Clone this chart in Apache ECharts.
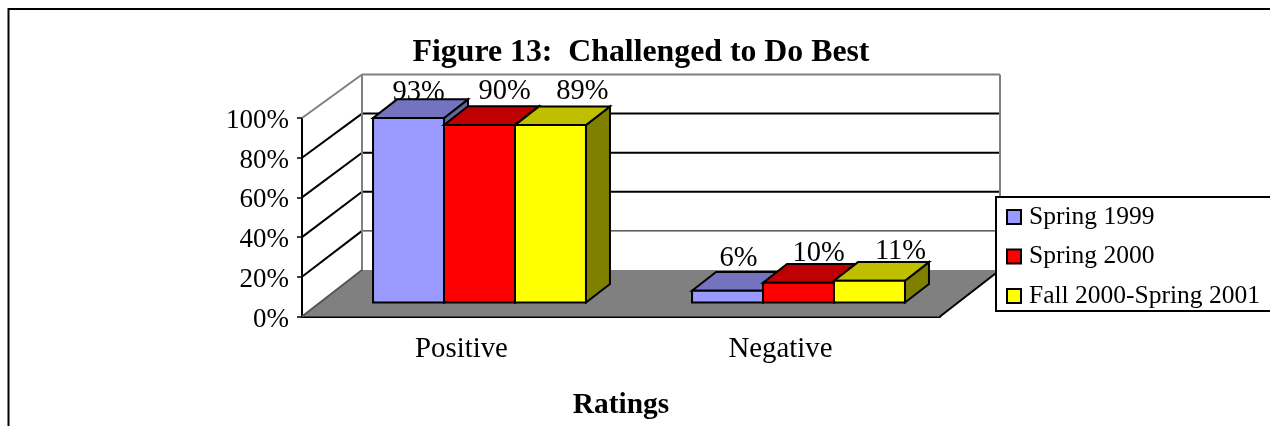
<!DOCTYPE html>
<html><head><meta charset="utf-8">
<style>html,body{margin:0;padding:0;background:#fff}#c{width:1270px;height:426px}</style>
<script src="https://cdn.jsdelivr.net/npm/echarts@6/dist/echarts.min.js"></script>
</head><body><div id="c"></div>
<script>
const categories = ['Positive', 'Negative'];
const seriesNames = ['Spring 1999', 'Spring 2000', 'Fall 2000-Spring 2001'];
const spring1999 = [93, 6];
const spring2000 = [89.5, 10];
const fall2000Spring2001 = [89.4, 11];
const yTicks = [0, 20, 40, 60, 80, 100];

const FONT = '"Liberation Serif","Times New Roman",serif';
const DX = 60, DY = 46.5, BACK = 0.985; // wall depth on screen, back wall shrink
const D1 = 0.3, D2 = 0.7;               // bar front/back depth fraction
const BAR = 0.2225;                     // bar width as share of a band
const LABEL_MID = -9;                   // from text baseline to text middle
const faces = [
  {front:'#9999ff', top:'#7373bf', side:'#666699', ldx:[10,11], ldy:[-16,-23]},
  {front:'#ff0000', top:'#bf0000', side:'#800000', ldx:[25,20], ldy:[-24,-20]},
  {front:'#ffff00', top:'#bfbf00', side:'#808000', ldx:[32,31], ldy:[-25,-20]}
];
const seriesValues = [spring1999, spring2000, fall2000Spring2001];

function poly(pts, fill, stroke, w) {
  return {type:'polygon', shape:{points:pts}, style:{fill:fill, stroke:stroke, lineWidth:w, lineJoin:'miter'}};
}
function seg(a, b, col, w) {
  return {type:'line', shape:{x1:a[0], y1:a[1], x2:b[0], y2:b[1]}, style:{stroke:col, lineWidth:w}};
}

function renderFrame(params, api) {
  const r = params.coordSys, L = r.x, R = r.x + r.width, B = r.y + r.height;
  const backY = function (y) { return B - DY - (B - y) * BACK; };
  const kids = [];
  kids.push(poly([[L,B],[R,B],[R+DX,B-DY],[L+DX,B-DY]], '#808080', null, 0));
  yTicks.forEach(function (t) {
    const y = api.coord([0, t])[1];
    if (t === 0) return;
    const col = t === 100 ? '#808080' : '#000';
    kids.push(seg([L, y], [L+DX, backY(y)], col, 2));
    kids.push(seg([L+DX, backY(y)], [R+DX, backY(y)], col, t === 20 ? 1 : 2));
  });
  const top = api.coord([0, 100])[1];
  kids.push(seg([L+DX, backY(top)], [L+DX, B-DY], '#808080', 2));
  kids.push(seg([R+DX, backY(top)], [R+DX, B-DY], '#808080', 2));
  kids.push(seg([L, B], [L+DX, B-DY], '#555', 2));
  kids.push(seg([R, B], [R+DX, B-DY], '#000', 2));
  return {type:'group', children:kids};
}

function renderBar(si) {
  return function (params, api) {
    const cat = api.value(0), val = api.value(1), di = params.dataIndex;
    const band = api.size([1, 0])[0], w = band * BAR;
    const c = api.coord([cat, val]), base = api.coord([cat, 0]);
    const x0 = c[0] + (si - 1.5) * w + D1 * DX;
    const x1 = x0 + w;
    const yb = base[1] - D1 * DY, yt = c[1] - D1 * DY;
    const ox = (D2 - D1) * DX, oy = (D2 - D1) * DY;
    const f = faces[si];
    return {type:'group', children:[
      {type:'text', style:{text:Math.round(val) + '%', x:(x0+x1)/2 + f.ldx[di], y:yt + f.ldy[di] + LABEL_MID,
        fill:'#000', font:'28.5px ' + FONT, align:'center', verticalAlign:'middle'}},
      poly([[x1,yb],[x1+ox,yb-oy],[x1+ox,yt-oy],[x1,yt]], f.side, '#000', 2),
      poly([[x0,yt],[x1,yt],[x1+ox,yt-oy],[x0+ox,yt-oy]], f.top, '#000', 2),
      poly([[x0,yt],[x1,yt],[x1,yb],[x0,yb]], f.front, '#000', 2)
    ]};
  };
}

const chart = echarts.init(document.getElementById('c'), null, {renderer:'canvas'});
chart.setOption({
  animation:false,
  backgroundColor:'#fff',
  title:{text:'Figure 13:  Challenged to Do Best', left:636, top:32, textAlign:'center',
    textStyle:{fontFamily:FONT, fontWeight:'bold', fontSize:31.8, color:'#000'}},
  legend:{left:996, top:197, orient:'vertical', padding:[7,40,2,10], itemGap:13.5,
    itemWidth:14, itemHeight:14, backgroundColor:'#fff', borderColor:'#000', borderWidth:2, borderRadius:0,
    icon:'rect', textStyle:{fontFamily:FONT, fontSize:25.5, color:'#000', padding:[0,0,0,3]},
    data:seriesNames.map(function (n, i) {
      return {name:n, itemStyle:{color:faces[i].front, borderColor:'#000', borderWidth:2}};
    })},
  grid:{left:302, top:118, width:638, height:198.5, containLabel:false},
  xAxis:{type:'category', data:categories, boundaryGap:true,
    axisLine:{lineStyle:{color:'#000', width:2}}, axisTick:{length:5, lineStyle:{color:'#000', width:1.5}},
    axisLabel:{fontFamily:FONT, fontSize:28.8, color:'#000', margin:18},
    name:'Ratings', nameLocation:'middle', nameGap:74,
    nameTextStyle:{fontFamily:FONT, fontWeight:'bold', fontSize:29.4, color:'#000'}},
  yAxis:{type:'value', min:0, max:100, interval:20,
    axisLine:{show:true, lineStyle:{color:'#000', width:2}}, axisTick:{show:true, length:5, lineStyle:{color:'#000', width:1.5}},
    splitLine:{show:false},
    axisLabel:{formatter:'{a|{value}%}', margin:13,
      rich:{a:{fontFamily:FONT, fontSize:27, color:'#000', padding:[6,0,0,0]}}}},
  graphic:[{type:'rect', silent:true, z:-1, shape:{x:8.5, y:9, width:1300, height:500},
    style:{fill:'none', stroke:'#000', lineWidth:2}}],
  series:[
    {type:'custom', name:'frame', silent:true, z:1, renderItem:renderFrame, data:[[0, 0]], encode:{x:0, y:1}}
  ].concat(seriesNames.map(function (n, si) {
    return {type:'custom', name:n, z:2 + si, itemStyle:{color:faces[si].front}, renderItem:renderBar(si),
      encode:{x:0, y:1},
      data:categories.map(function (c, ci) { return [ci, seriesValues[si][ci]]; })};
  }))
});
</script></body></html>
